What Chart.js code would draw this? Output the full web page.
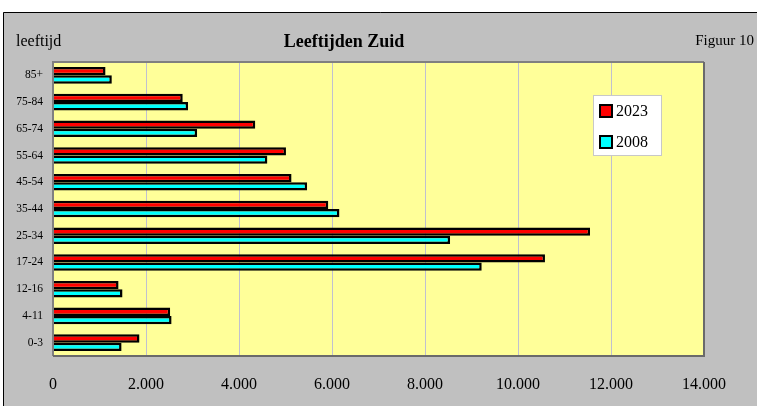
<!DOCTYPE html>
<html>
<head>
<meta charset="utf-8">
<script src="https://cdn.jsdelivr.net/npm/chart.js@4/dist/chart.umd.min.js"></script>
<style>
  body { margin: 0; background: #fff; }
  canvas { display: block; }
</style>
</head>
<body>
<canvas id="grafiek" width="757" height="406"></canvas>
<script>
// leeftijdsgroepen, van boven naar beneden
const categorieen = ['85+', '75-84', '65-74', '55-64', '45-54', '35-44', '25-34', '17-24', '12-16', '4-11', '0-3'];
const waarden2023 = [1130, 2790, 4350, 5010, 5130, 5920, 11550, 10580, 1410, 2520, 1860];
const waarden2008 = [1265, 2905, 3100, 4610, 5465, 6160, 8540, 9220, 1495, 2550, 1475];
const xTicks = [0, 2000, 4000, 6000, 8000, 10000, 12000, 14000];

const serif = '"Liberation Serif", "Times New Roman", serif';

function puntNotatie(n) {
  return String(n).replace(/\B(?=(\d{3})+(?!\d))/g, '.');
}

// achtergrond, plotvlak, teksten en legenda
const decoratie = {
  id: 'decoratie',
  beforeDraw(chart) {
    const c = chart.ctx;
    const a = chart.chartArea;
    c.save();
    c.fillStyle = '#ffffff';
    c.fillRect(0, 0, chart.width, chart.height);
    c.fillStyle = '#c0c0c0';
    c.fillRect(3, 12, chart.width - 3, chart.height - 12);
    c.strokeStyle = '#000';
    c.lineWidth = 1;
    c.beginPath();
    c.moveTo(3.5, chart.height);
    c.lineTo(3.5, 12.5);
    c.lineTo(chart.width, 12.5);
    c.stroke();
    c.fillStyle = '#ffff99';
    c.fillRect(a.left, a.top, a.right - a.left, a.bottom - a.top);
    c.restore();
  },
  afterDraw(chart) {
    const c = chart.ctx;
    const a = chart.chartArea;
    c.save();
    // rand van het plotvlak
    c.lineWidth = 2;
    c.strokeStyle = '#808080';
    c.beginPath();
    c.moveTo(a.left, a.bottom);
    c.lineTo(a.left, a.top);
    c.lineTo(a.right, a.top);
    c.stroke();
    c.strokeStyle = '#6a6a6a';
    c.beginPath();
    c.moveTo(a.right, a.top);
    c.lineTo(a.right, a.bottom);
    c.lineTo(a.left, a.bottom);
    c.stroke();

    // teksten
    c.fillStyle = '#000';
    c.textBaseline = 'alphabetic';
    c.font = '16px ' + serif;
    c.textAlign = 'left';
    c.fillText('leeftijd', 16, 46);
    c.textAlign = 'right';
    c.font = '15px ' + serif;
    c.fillText('Figuur 10', 754, 45);
    c.textAlign = 'center';
    c.font = 'bold 18px ' + serif;
    c.fillText('Leeftijden Zuid', 344, 47);

    // legenda
    c.fillStyle = '#ffffff';
    c.fillRect(593, 95, 69, 61);
    c.strokeStyle = '#c8c8c8';
    c.lineWidth = 1;
    c.strokeRect(593.5, 95.5, 68, 60);
    const ys = [111, 142];
    chart.data.datasets.forEach((ds, i) => {
      c.fillStyle = ds.backgroundColor;
      c.fillRect(600, ys[i] - 6, 12, 12);
      c.strokeStyle = '#000';
      c.lineWidth = 2;
      c.strokeRect(600, ys[i] - 6, 12, 12);
      c.fillStyle = '#000';
      c.font = '16px ' + serif;
      c.textAlign = 'left';
      c.textBaseline = 'middle';
      c.fillText(ds.label, 616, ys[i] + 1);
    });
    c.restore();
  }
};

new Chart(document.getElementById('grafiek'), {
  type: 'bar',
  data: {
    labels: categorieen,
    datasets: [
      { label: '2023', data: waarden2023, backgroundColor: '#ff0000', borderColor: '#000', borderWidth: 2.5 },
      { label: '2008', data: waarden2008, backgroundColor: '#00ffff', borderColor: '#000', borderWidth: 2.5 }
    ]
  },
  options: {
    indexAxis: 'y',
    responsive: false,
    animation: false,
    categoryPercentage: 0.62,
    barPercentage: 1.0,
    layout: { padding: { left: 0, right: 53, top: 62, bottom: 0 } },
    plugins: {
      legend: { display: false },
      title: { display: false },
      tooltip: { enabled: false }
    },
    scales: {
      x: {
        min: 0,
        max: 14000,
        afterBuildTicks(scale) { scale.ticks = xTicks.map(v => ({ value: v })); },
        afterFit(scale) { scale.height = 50; },
        grid: { color: '#c0c0d0', lineWidth: 1, drawTicks: false },
        border: { display: false },
        ticks: {
          padding: 19,
          color: '#000',
          font: { family: serif, size: 16 },
          callback: v => puntNotatie(v)
        }
      },
      y: {
        afterFit(scale) { scale.width = 53; },
        grid: { display: false, drawTicks: false },
        border: { display: false },
        ticks: {
          padding: 10,
          color: '#000',
          font: { family: serif, size: 11.5 }
        }
      }
    }
  },
  plugins: [decoratie]
});
</script>
</body>
</html>
